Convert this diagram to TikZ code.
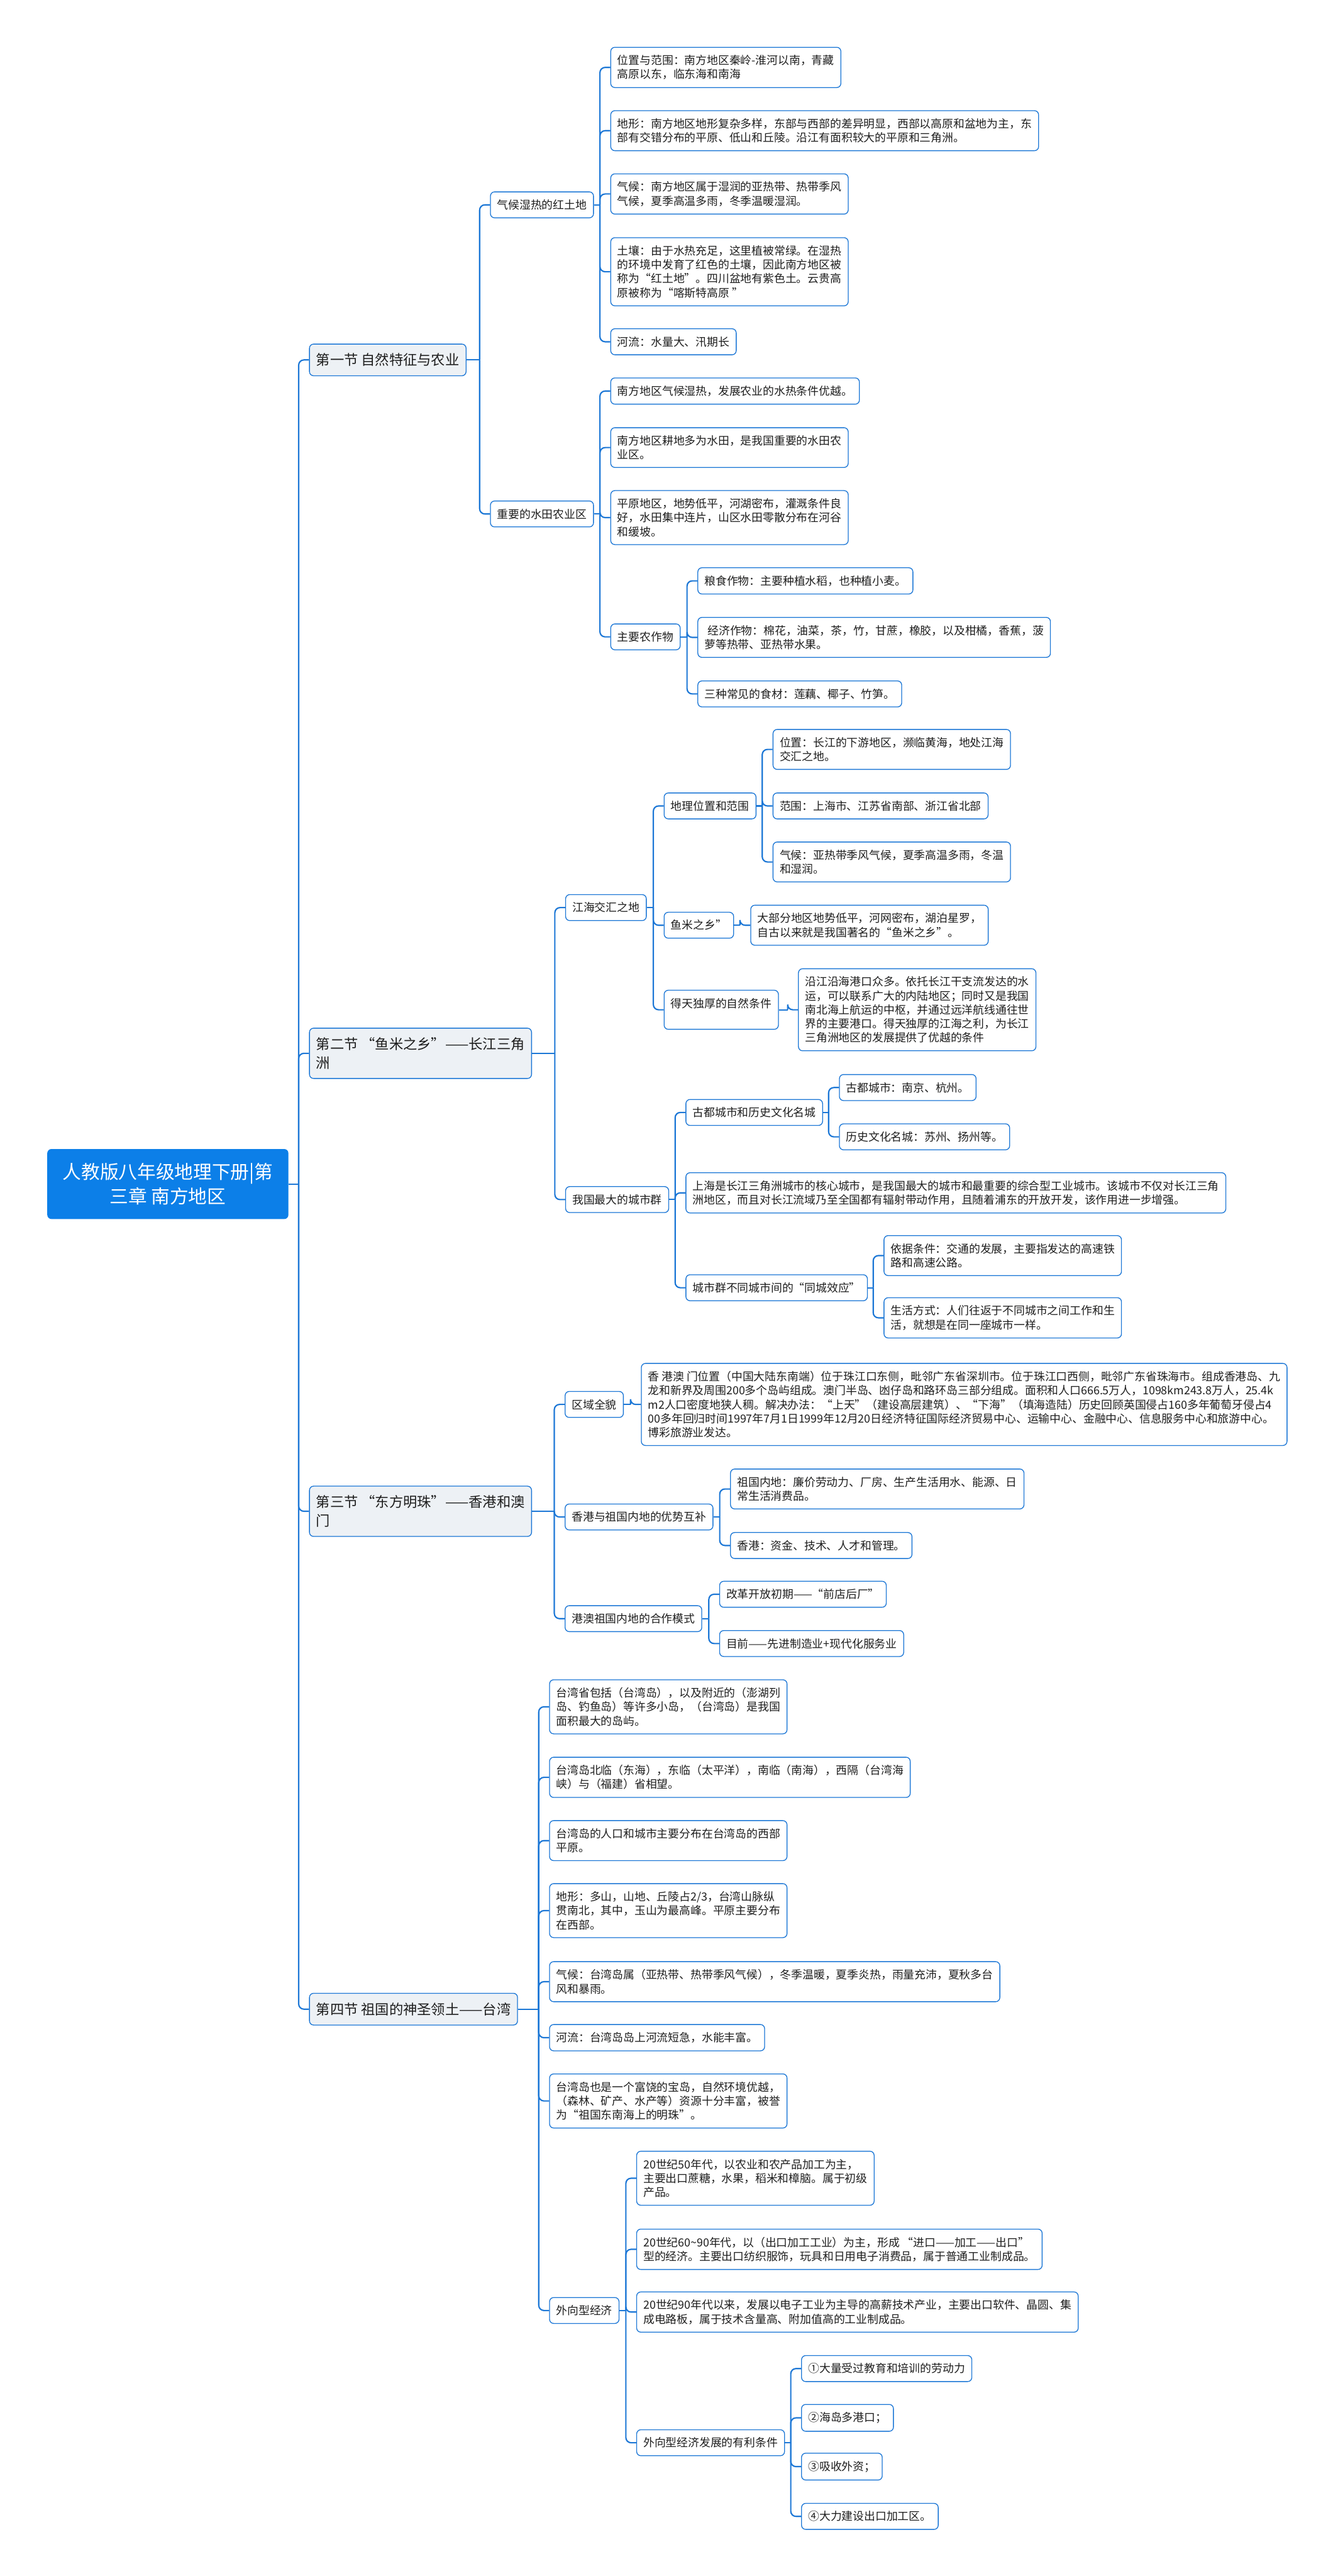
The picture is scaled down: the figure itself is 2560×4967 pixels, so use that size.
\documentclass[tikz,border=0pt]{standalone}
\usepackage{fontspec}
\setmainfont{Noto Sans CJK SC}
\usepackage{tikz}
\usetikzlibrary{calc}
\usepackage{xcolor}
\definecolor{mapblue}{HTML}{0C7FE8}
\definecolor{linkblue}{HTML}{1C77D6}
\definecolor{secgray}{HTML}{EDF1F5}
\definecolor{inktext}{HTML}{1E1E1E}

\tikzset{
  leafbox/.style={draw=linkblue, fill=white, rounded corners=8pt, line width=1.6pt,
    align=left, anchor=west, inner xsep=13pt, inner ysep=15pt, text=inktext,
    font=\fontsize{21.6}{27}\selectfont},
  secbox/.style={leafbox, fill=secgray, inner ysep=18pt, font=\fontsize{27}{36}\selectfont},
  rootbox/.style={fill=mapblue, rounded corners=8pt, text=white, align=center, anchor=west,
    minimum width=465pt, minimum height=135pt, font=\fontsize{36}{48}\selectfont},
  link/.style={draw=linkblue, line width=2.6pt}
}

\begin{document}
\begin{tikzpicture}[x=1pt, y=-1pt]
  \fill[white] (0,0) rectangle (2560,4967);
  \useasboundingbox (0,0) rectangle (2560,4967);

  % root and sections
  \node[rootbox] (root) at (91,2283) {人教版八年级地理下册|第\\三章 南方地区};
  \node[secbox] (s1) at (596,694) {第一节 自然特征与农业};
  \node[secbox] (s2) at (596,2031) {第二节 “鱼米之乡”——长江三角\\洲};
  \node[secbox] (s3) at (596,2914) {第三节 “东方明珠”——香港和澳\\门};
  \node[secbox] (s4) at (596,3874) {第四节 祖国的神圣领土——台湾};

  % section 1
  \node[leafbox] (s1a) at (945,395) {气候湿热的红土地};
  \node[leafbox] (s1a1) at (1177,130) {位置与范围：南方地区秦岭-淮河以南，青藏\\高原以东，临东海和南海};
  \node[leafbox] (s1a2) at (1177,252) {地形：南方地区地形复杂多样，东部与西部的差异明显，西部以高原和盆地为主，东\\部有交错分布的平原、低山和丘陵。沿江有面积较大的平原和三角洲。};
  \node[leafbox] (s1a3) at (1177,374) {气候：南方地区属于湿润的亚热带、热带季风\\气候，夏季高温多雨，冬季温暖湿润。};
  \node[leafbox] (s1a4) at (1177,524) {土壤：由于水热充足，这里植被常绿。在湿热\\的环境中发育了红色的土壤，因此南方地区被\\称为“红土地”。四川盆地有紫色土。云贵高\\原被称为“喀斯特高原 ”};
  \node[leafbox] (s1a5) at (1177,659) {河流：水量大、汛期长};

  \node[leafbox] (s1b) at (945,991) {重要的水田农业区};
  \node[leafbox] (s1b1) at (1177,754) {南方地区气候湿热，发展农业的水热条件优越。};
  \node[leafbox] (s1b2) at (1177,863) {南方地区耕地多为水田，是我国重要的水田农\\业区。};
  \node[leafbox] (s1b3) at (1177,998) {平原地区，地势低平，河湖密布，灌溉条件良\\好，水田集中连片，山区水田零散分布在河谷\\和缓坡。};
  \node[leafbox] (s1b4) at (1177,1228) {主要农作物};
  \node[leafbox] (s1b4a) at (1345,1120) {粮食作物：主要种植水稻，也种植小麦。};
  \node[leafbox] (s1b4b) at (1345,1229) {\hspace{6pt}经济作物：棉花，油菜，茶，竹，甘蔗，橡胶，以及柑橘，香蕉，菠\\萝等热带、亚热带水果。};
  \node[leafbox] (s1b4c) at (1345,1338) {三种常见的食材：莲藕、椰子、竹笋。};

  % section 2
  \node[leafbox] (s2a) at (1090,1750) {江海交汇之地};
  \node[leafbox] (s2a1) at (1280,1554) {地理位置和范围};
  \node[leafbox] (s2a1a) at (1490,1445) {位置：长江的下游地区，濒临黄海，地处江海\\交汇之地。};
  \node[leafbox] (s2a1b) at (1490,1554) {范围：上海市、江苏省南部、浙江省北部};
  \node[leafbox] (s2a1c) at (1490,1662) {气候：亚热带季风气候，夏季高温多雨，冬温\\和湿润。};
  \node[leafbox] (s2a2) at (1280,1784) {鱼米之乡”};
  \node[leafbox] (s2a2a) at (1447,1784) {大部分地区地势低平，河网密布，湖泊星罗，\\自古以来就是我国著名的“鱼米之乡”。};
  \node[leafbox] (s2a3) at (1280,1947) {得天独厚的自然条件\\\mbox{}};
  \node[leafbox] (s2a3a) at (1539,1947) {沿江沿海港口众多。依托长江干支流发达的水\\运，可以联系广大的内陆地区；同时又是我国\\南北海上航运的中枢，并通过远洋航线通往世\\界的主要港口。得天独厚的江海之利，为长江\\三角洲地区的发展提供了优越的条件};

  \node[leafbox] (s2b) at (1090,2313) {我国最大的城市群};
  \node[leafbox] (s2b1) at (1322,2145) {古都城市和历史文化名城};
  \node[leafbox] (s2b1a) at (1618,2097) {古都城市：南京、杭州。};
  \node[leafbox] (s2b1b) at (1618,2192) {历史文化名城：苏州、扬州等。};
  \node[leafbox] (s2b2) at (1322,2300) {上海是长江三角洲城市的核心城市，是我国最大的城市和最重要的综合型工业城市。该城市不仅对长江三角\\洲地区，而且对长江流域乃至全国都有辐射带动作用，且随着浦东的开放开发，该作用进一步增强。};
  \node[leafbox] (s2b3) at (1322,2483) {城市群不同城市间的“同城效应”};
  \node[leafbox] (s2b3a) at (1704,2421) {依据条件：交通的发展，主要指发达的高速铁\\路和高速公路。};
  \node[leafbox] (s2b3b) at (1704,2541) {生活方式：人们往返于不同城市之间工作和生\\活，就想是在同一座城市一样。};

  % section 3
  \node[leafbox] (s3a) at (1089,2708) {区域全貌};
  \node[leafbox] (s3a1) at (1236,2708) {香 港澳 门位置（中国大陆东南端）位于珠江口东侧，毗邻广东省深圳市。位于珠江口西侧，毗邻广东省珠海市。组成香港岛、九\\龙和新界及周围200多个岛屿组成。澳门半岛、凼仔岛和路环岛三部分组成。面积和人口666.5万人，1098km243.8万人，25.4k\\m2人口密度地狭人稠。解决办法：“上天”（建设高层建筑）、“下海”（填海造陆）历史回顾英国侵占160多年葡萄牙侵占4\\00多年回归时间1997年7月1日1999年12月20日经济特征国际经济贸易中心、运输中心、金融中心、信息服务中心和旅游中心。\\博彩旅游业发达。};
  \node[leafbox] (s3b) at (1089,2925) {香港与祖国内地的优势互补};
  \node[leafbox] (s3b1) at (1408,2871) {祖国内地：廉价劳动力、厂房、生产生活用水、能源、日\\常生活消费品。};
  \node[leafbox] (s3b2) at (1408,2980) {香港：资金、技术、人才和管理。};
  \node[leafbox] (s3c) at (1089,3121) {港澳祖国内地的合作模式};
  \node[leafbox] (s3c1) at (1387,3074) {改革开放初期——“前店后厂”};
  \node[leafbox] (s3c2) at (1387,3169) {目前——先进制造业+现代化服务业};

  % section 4
  \node[leafbox] (s4a) at (1059,3291) {台湾省包括（台湾岛），以及附近的（澎湖列\\岛、钓鱼岛）等许多小岛，（台湾岛）是我国\\面积最大的岛屿。};
  \node[leafbox] (s4b) at (1059,3427) {台湾岛北临（东海），东临（太平洋），南临（南海），西隔（台湾海\\峡）与（福建）省相望。};
  \node[leafbox] (s4c) at (1059,3549) {台湾岛的人口和城市主要分布在台湾岛的西部\\平原。};
  \node[leafbox] (s4d) at (1059,3684) {地形：多山，山地、丘陵占2/3，台湾山脉纵\\贯南北，其中，玉山为最高峰。平原主要分布\\在西部。};
  \node[leafbox] (s4e) at (1059,3821) {气候：台湾岛属（亚热带、热带季风气候），冬季温暖，夏季炎热，雨量充沛，夏秋多台\\风和暴雨。};
  \node[leafbox] (s4f) at (1059,3929) {河流：台湾岛岛上河流短急，水能丰富。};
  \node[leafbox] (s4g) at (1059,4051) {台湾岛也是一个富饶的宝岛，自然环境优越，\\（森林、矿产、水产等）资源十分丰富，被誉\\为“祖国东南海上的明珠”。};
  \node[leafbox] (s4h) at (1059,4455) {外向型经济};
  \node[leafbox] (s4h1) at (1227,4200) {20世纪50年代，以农业和农产品加工为主，\\主要出口蔗糖，水果，稻米和樟脑。属于初级\\产品。};
  \node[leafbox] (s4h2) at (1227,4337) {20世纪60\textasciitilde 90年代，以（出口加工工业）为主，形成 “进口——加工——出口”\\型的经济。主要出口纺织服饰，玩具和日用电子消费品，属于普通工业制成品。};
  \node[leafbox] (s4h3) at (1227,4458) {20世纪90年代以来，发展以电子工业为主导的高薪技术产业，主要出口软件、晶圆、集\\成电路板，属于技术含量高、附加值高的工业制成品。};
  \node[leafbox] (s4h4) at (1227,4710) {外向型经济发展的有利条件};
  \node[leafbox] (s4h4a) at (1545,4567) {①大量受过教育和培训的劳动力};
  \node[leafbox] (s4h4b) at (1545,4662) {②海岛多港口；};
  \node[leafbox] (s4h4c) at (1545,4756) {③吸收外资；};
  \node[leafbox] (s4h4d) at (1545,4852) {④大力建设出口加工区。};

  % connectors
  \foreach \p/\c in {root/s1, root/s2, root/s3, root/s4,
      s1/s1a, s1/s1b, s1a/s1a1, s1a/s1a2, s1a/s1a3, s1a/s1a4, s1a/s1a5,
      s1b/s1b1, s1b/s1b2, s1b/s1b3, s1b/s1b4, s1b4/s1b4a, s1b4/s1b4b, s1b4/s1b4c,
      s2/s2a, s2/s2b, s2a/s2a1, s2a/s2a2, s2a/s2a3,
      s2a1/s2a1a, s2a1/s2a1b, s2a1/s2a1c, s2a2/s2a2a, s2a3/s2a3a,
      s2b/s2b1, s2b/s2b2, s2b/s2b3, s2b1/s2b1a, s2b1/s2b1b, s2b3/s2b3a, s2b3/s2b3b,
      s3/s3a, s3/s3b, s3/s3c, s3a/s3a1, s3b/s3b1, s3b/s3b2, s3c/s3c1, s3c/s3c2,
      s4/s4a, s4/s4b, s4/s4c, s4/s4d, s4/s4e, s4/s4f, s4/s4g, s4/s4h,
      s4h/s4h1, s4h/s4h2, s4h/s4h3, s4h/s4h4,
      s4h4/s4h4a, s4h4/s4h4b, s4h4/s4h4c, s4h4/s4h4d}{
    \coordinate (j) at ($(\c.west)+(-20,0)$);
    \draw[link] (\p.east) -- (j |- \p.east);
    \draw[link, rounded corners=10pt] (j |- \p.east) |- (\c.west);
  }
\end{tikzpicture}
\end{document}
